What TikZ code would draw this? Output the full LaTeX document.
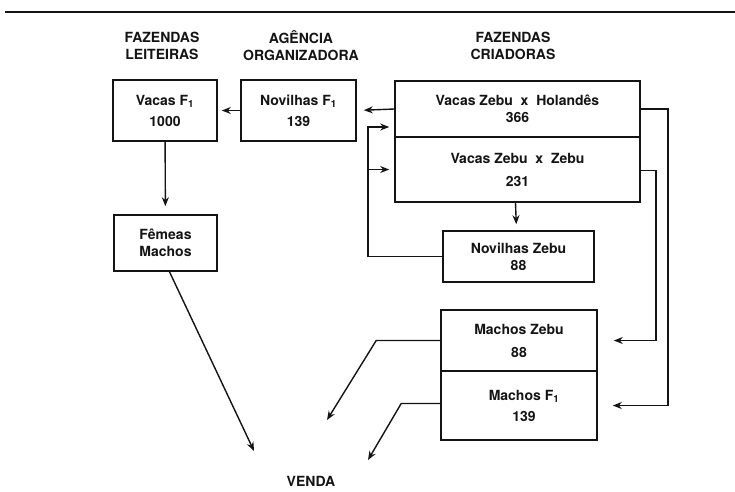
\documentclass[tikz,border=0pt]{standalone}
\usepackage{fontspec}
\setmainfont{TeX Gyre Heros}
\usetikzlibrary{arrows.meta,calc,positioning}
\definecolor{gdink}{HTML}{141414}
\tikzset{
  gd text/.style={font=\bfseries\fontsize{14}{17}\selectfont, text=gdink},
  gd box/.style={draw=gdink, line width=1.6pt, align=center, inner sep=0pt},
  gd head/.style={align=center, inner sep=0pt},
  gd arrow/.style={-{Stealth[length=9pt,width=7pt]}, line width=1.4pt,
    draw=gdink, line cap=butt}
}

\begin{document}
\begin{tikzpicture}[gd text, x=1pt, y=-1pt]
  \fill[white] (0,0) rectangle (735,491);
  \useasboundingbox (0,0) rectangle (735,491);
  \draw[gdink, line width=1.8pt] (5,12) -- (735,12);
  % headers
  \node[gd head] (leit) at (162,46) {FAZENDAS\\LEITEIRAS};
  \node[gd head] (agen) at (301,46) {AG\^ENCIA\\ORGANIZADORA};
  \node[gd head] (cria) at (513,46) {FAZENDAS\\CRIADORAS};
  % boxes
  \node[gd box, minimum width=104pt, minimum height=61pt] (vacf) at (165,110.5)
    {Vacas F\textsubscript{1}\\[4pt]1000};
  \node[gd box, minimum width=115pt, minimum height=61pt] (novf) at (298.5,110.5)
    {Novilhas F\textsubscript{1}\\[4pt]139};
  \node[gd box, minimum width=245pt, minimum height=56pt] (vzh) at (517.5,109)
    {Vacas Zebu\ \ x\ \ Holand\^es\\366};
  \node[gd box, minimum width=245pt, minimum height=65pt] (vzz) at (517.5,169.5)
    {Vacas Zebu\ \ x\ \ Zebu\\[6pt]231};
  \node[gd box, minimum width=151pt, minimum height=51pt] (novz) at (518.5,256.5)
    {Novilhas Zebu\\88};
  \node[gd box, minimum width=156pt, minimum height=61pt] (macz) at (519,340.5)
    {Machos Zebu\\[6pt]88};
  \node[gd box, minimum width=156pt, minimum height=69pt] (macf) at (519,405.5)
    {\hspace*{10pt}Machos F\textsubscript{1}\\[4pt]\hspace*{10pt}139};
  \node[gd box, minimum width=103pt, minimum height=56pt] (fema) at (165.5,243)
    {F\^emeas\\Machos};
  \node[gd head] (venda) at (311,481) {VENDA};
  % free ends and bends
  \coordinate (loop) at (368,127);
  \coordinate (v1) at (327,420);
  \coordinate (v2) at (368,460);
  \coordinate (v3) at (254,451);
  % connectors
  \draw[gd arrow, shorten >=4pt] (novf) -- (vacf);
  \draw[gd arrow, shorten >=7pt] (vzh.west) -- (novf.east);
  \draw[gd arrow, shorten >=8pt] (vacf) -- (fema);
  \draw[gd arrow, shorten >=6pt] ([xshift=-2pt]vzz.south) -- ([xshift=-2pt]novz.north);
  \draw[gd arrow, shorten >=5pt] (novz.west) -| (loop) -- (loop -| vzh.west);
  \draw[gd arrow, shorten >=5pt] (loop |- vzz.west) -- (vzz.west);
  \draw[gd arrow, shorten >=15pt] (vzh.east) -- ++(27,0) |- (macf.east);
  \draw[gd arrow, shorten >=16pt] ([yshift=-1pt]vzz.east) -- ++(15,0) |- (macz.east);
  \draw[gd arrow] (macz.west) -- ++(-64,0) -- (v1);
  \draw[gd arrow] ([yshift=2pt]macf.west) -- ++(-39,0) -- (v2);
  \draw[gd arrow] ([xshift=4pt]fema.south) -- (v3);
\end{tikzpicture}
\end{document}
